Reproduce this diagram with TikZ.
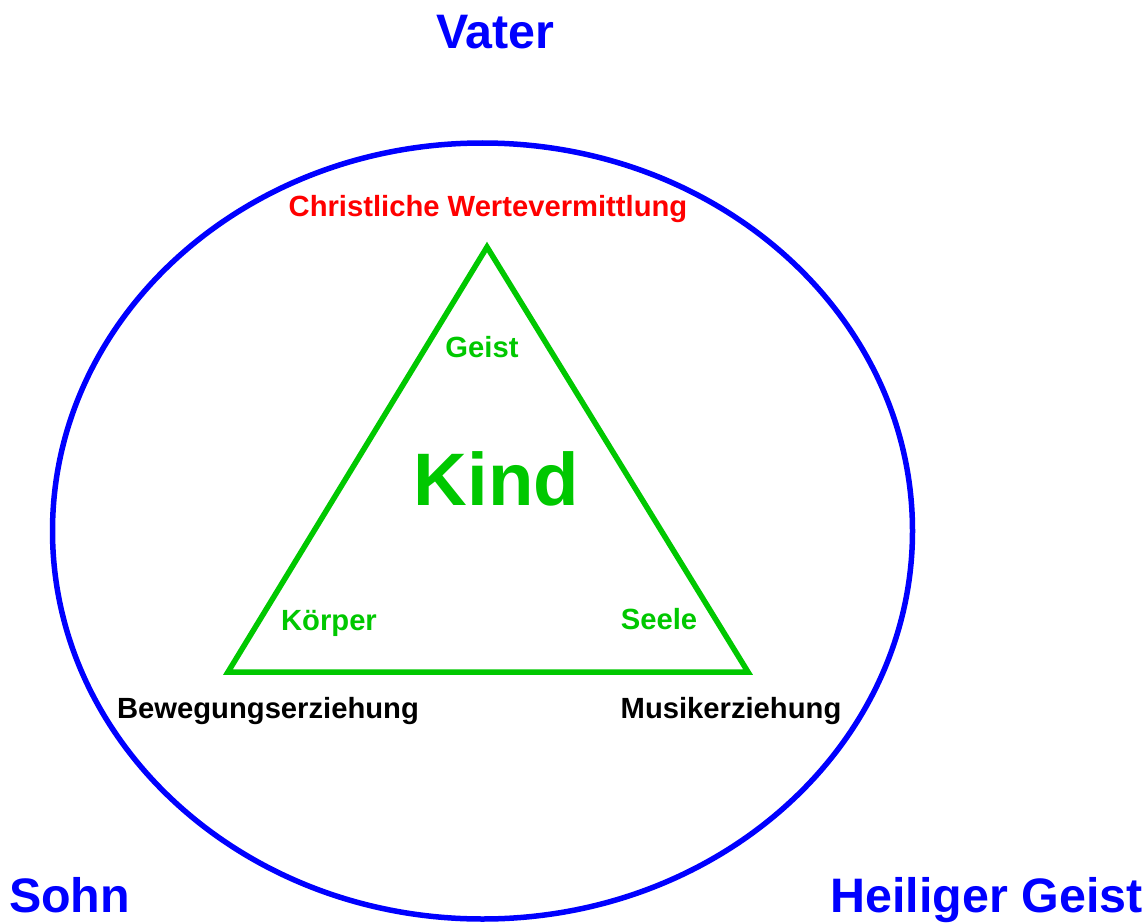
\documentclass[tikz,border=0pt]{standalone}
\usepackage{fontspec}
\setmainfont{Liberation Sans}
\definecolor{tblue}{RGB}{0,0,255}
\definecolor{tgreen}{RGB}{0,200,0}
\definecolor{tred}{RGB}{255,0,0}
\tikzset{
  lbl/.style={anchor=base, inner sep=0pt, font=\bfseries\fontsize{29.2}{31}\selectfont},
  big/.style={anchor=base, inner sep=0pt, text=tblue, font=\bfseries\fontsize{48.4}{50}\selectfont},
}
\begin{document}
\begin{tikzpicture}[x=1pt,y=-1pt]
\useasboundingbox[fill=white] (0,0) rectangle (1148,923);
\draw[tblue, line width=5.5pt] (482.5,531) ellipse [x radius=430, y radius=388];
\coordinate (t1) at (487,247);
\coordinate (t2) at (228,672);
\coordinate (t3) at (748,672);
\draw[tgreen, line width=5.5pt, line join=miter] (t1) -- (t2) -- (t3) -- cycle;
\node[big] (vater) at (495.5,49) {Vater};
\node[big] (sohn) at (69.5,912) {Sohn};
\node[big] (hg) at (986.5,912) {Heiliger Geist};
\node[lbl, text=tred] (cw) at (488,216) {Christliche Wertevermittlung};
\node[lbl, text=tgreen] (geist) at (482,357) {Geist};
\node[anchor=base, inner sep=0pt, text=tgreen, font=\bfseries\fontsize{74.4}{76}\selectfont] (kind) at (496.5,505) {Kind};
\node[lbl, text=tgreen] (koerper) at (329,630) {Körper};
\node[lbl, text=tgreen] (seele) at (659,629) {Seele};
\node[lbl] (bew) at (268,718) {Bewegungserziehung};
\node[lbl] (mus) at (731,718) {Musikerziehung};
\end{tikzpicture}
\end{document}
